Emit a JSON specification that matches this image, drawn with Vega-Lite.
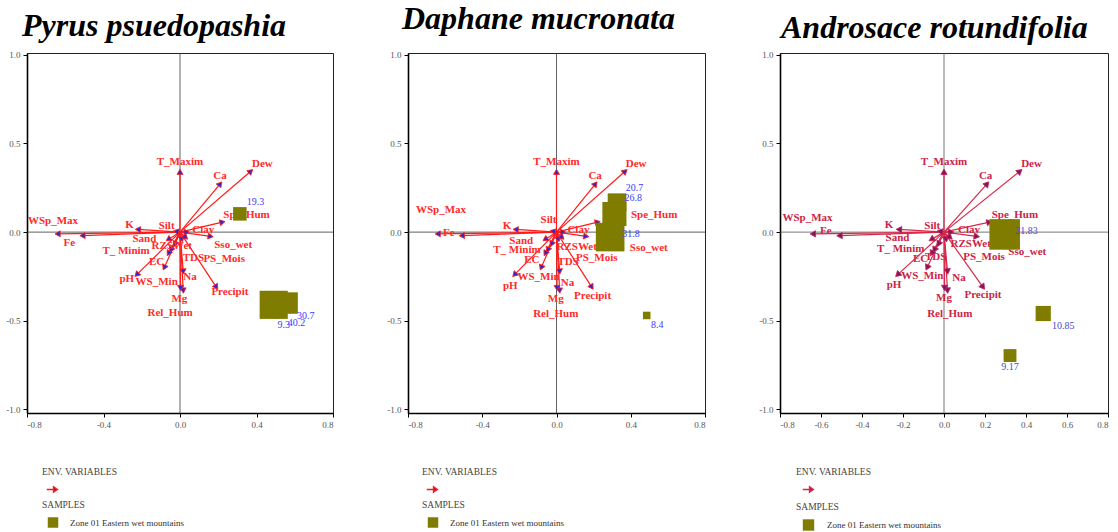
{
  "$schema": "https://vega.github.io/schema/vega-lite/v6.json",
  "background": "white",
  "padding": {"left": 5, "top": 2, "right": 0, "bottom": 0},
  "config": {"font": "Liberation Serif", "view": {"stroke": "#222", "strokeWidth": 1}},
  "datasets": {
    "env": [
      {"name": "T_Maxim", "kind": "env", "x": 0.0, "y": 0.34, "lx1": 0.0, "ly1": 0.395, "lx2": 0.0, "ly2": 0.395, "lx3": 0.0, "ly3": 0.393},
      {"name": "Dew", "kind": "env", "x": 0.37, "y": 0.343, "lx1": 0.431, "ly1": 0.384, "lx2": 0.429, "ly2": 0.384, "lx3": 0.427, "ly3": 0.383},
      {"name": "Ca", "kind": "env", "x": 0.21, "y": 0.272, "lx1": 0.209, "ly1": 0.315, "lx2": 0.208, "ly2": 0.315, "lx3": 0.203, "ly3": 0.315},
      {"name": "Spe_Hum", "kind": "env", "x": 0.222, "y": 0.056, "lx1": 0.348, "ly1": 0.095, "lx2": 0.526, "ly2": 0.099, "lx3": 0.346, "ly3": 0.096},
      {"name": "WSp_Max", "kind": "env", "x": -0.64, "y": -0.01, "lx1": -0.664, "ly1": 0.065, "lx2": -0.622, "ly2": 0.123, "lx3": -0.666, "ly3": 0.078},
      {"name": "Fe", "kind": "env", "x": -0.51, "y": -0.02, "lx1": -0.579, "ly1": -0.063, "lx2": -0.58, "ly2": -0.004, "lx3": -0.577, "ly3": 0.006},
      {"name": "K", "kind": "env", "x": -0.22, "y": 0.015, "lx1": -0.264, "ly1": 0.039, "lx2": -0.267, "ly2": 0.037, "lx3": -0.268, "ly3": 0.041},
      {"name": "Silt", "kind": "env", "x": -0.02, "y": 0.005, "lx1": -0.07, "ly1": 0.035, "lx2": -0.043, "ly2": 0.067, "lx3": -0.057, "ly3": 0.033},
      {"name": "Clay", "kind": "env", "x": 0.035, "y": 0.0, "lx1": 0.122, "ly1": 0.011, "lx2": 0.118, "ly2": 0.011, "lx3": 0.122, "ly3": 0.013},
      {"name": "Sand", "kind": "env", "x": -0.061, "y": -0.041, "lx1": -0.186, "ly1": -0.037, "lx2": -0.19, "ly2": -0.052, "lx3": -0.227, "ly3": -0.033},
      {"name": "Sso_wet", "kind": "env", "x": 0.16, "y": -0.024, "lx1": 0.278, "ly1": -0.071, "lx2": 0.497, "ly2": -0.091, "lx3": 0.406, "ly3": -0.111},
      {"name": "T_ Minim", "kind": "env", "x": -0.047, "y": -0.1, "lx1": -0.282, "ly1": -0.104, "lx2": -0.213, "ly2": -0.1, "lx3": -0.211, "ly3": -0.096},
      {"name": "RZSWet", "kind": "env", "x": -0.026, "y": -0.067, "lx1": -0.043, "ly1": -0.078, "lx2": 0.109, "ly2": -0.082, "lx3": 0.13, "ly3": -0.065},
      {"name": "TDS", "kind": "env", "x": 0.01, "y": -0.04, "lx1": 0.07, "ly1": -0.144, "lx2": 0.063, "ly2": -0.166, "lx3": -0.041, "ly3": -0.139},
      {"name": "PS_Mois", "kind": "env", "x": 0.03, "y": -0.03, "lx1": 0.231, "ly1": -0.151, "lx2": 0.217, "ly2": -0.145, "lx3": 0.195, "ly3": -0.143},
      {"name": "EC", "kind": "env", "x": -0.082, "y": -0.2, "lx1": -0.122, "ly1": -0.168, "lx2": -0.133, "ly2": -0.16, "lx3": -0.114, "ly3": -0.154},
      {"name": "Na", "kind": "env", "x": 0.017, "y": -0.222, "lx1": 0.052, "ly1": -0.253, "lx2": 0.059, "ly2": -0.287, "lx3": 0.073, "ly3": -0.259},
      {"name": "pH", "kind": "env", "x": -0.226, "y": -0.24, "lx1": -0.278, "ly1": -0.263, "lx2": -0.249, "ly2": -0.302, "lx3": -0.244, "ly3": -0.296},
      {"name": "WS_Min", "kind": "env", "x": -0.06, "y": -0.12, "lx1": -0.122, "ly1": -0.283, "lx2": -0.097, "ly2": -0.255, "lx3": -0.106, "ly3": -0.246},
      {"name": "Precipit", "kind": "env", "x": 0.19, "y": -0.31, "lx1": 0.261, "ly1": -0.339, "lx2": 0.194, "ly2": -0.358, "lx3": 0.19, "ly3": -0.352},
      {"name": "Mg", "kind": "env", "x": 0.017, "y": -0.33, "lx1": -0.003, "ly1": -0.377, "lx2": -0.004, "ly2": -0.375, "lx3": 0.0, "ly3": -0.37},
      {"name": "Rel_Hum", "kind": "env", "x": 0.003, "y": -0.315, "lx1": -0.052, "ly1": -0.455, "lx2": -0.004, "ly2": -0.459, "lx3": 0.028, "ly3": -0.459}
    ],
    "smp": [
      {"panel": 1, "v": 19.3, "x": 0.313, "y": 0.103, "lx": 0.395, "ly": 0.168, "zone": "Zone 01 Eastern wet mountains"},
      {"panel": 1, "v": 40.2, "x": 0.49, "y": -0.41, "lx": 0.609, "ly": -0.511, "zone": "Zone 01 Eastern wet mountains"},
      {"panel": 1, "v": 30.7, "x": 0.56, "y": -0.40, "lx": 0.657, "ly": -0.473, "zone": "Zone 01 Eastern wet mountains"},
      {"panel": 1, "v": 9.3, "x": 0.5, "y": -0.47, "lx": 0.543, "ly": -0.522, "zone": "Zone 01 Eastern wet mountains"},
      {"panel": 2, "v": 20.7, "x": 0.326, "y": 0.166, "lx": 0.42, "ly": 0.25, "zone": "Zone 01 Eastern wet mountains"},
      {"panel": 2, "v": 26.8, "x": 0.312, "y": 0.102, "lx": 0.414, "ly": 0.194, "zone": "Zone 01 Eastern wet mountains"},
      {"panel": 2, "v": 31.8, "x": 0.289, "y": -0.028, "lx": 0.402, "ly": -0.013, "zone": "Zone 01 Eastern wet mountains"},
      {"panel": 2, "v": 8.4, "x": 0.486, "y": -0.47, "lx": 0.543, "ly": -0.524, "zone": "Zone 01 Eastern wet mountains"},
      {"panel": 3, "v": 21.83, "x": 0.296, "y": -0.013, "lx": 0.403, "ly": 0.004, "zone": "Zone 01 Eastern wet mountains"},
      {"panel": 3, "v": 10.85, "x": 0.484, "y": -0.459, "lx": 0.582, "ly": -0.528, "zone": "Zone 01 Eastern wet mountains"},
      {"panel": 3, "v": 9.17, "x": 0.322, "y": -0.696, "lx": 0.322, "ly": -0.763, "zone": "Zone 01 Eastern wet mountains"}
    ]
  },
  "hconcat": [
    {
      "width": 306, "height": 360,
      "title": {"text": "Pyrus psuedopashia", "anchor": "start", "frame": "group", "dx": -5, "offset": 8, "font": "Liberation Serif", "fontStyle": "italic", "fontWeight": "bold", "fontSize": 32, "color": "#000"},
      "layer": [
        {"data": {"values": [{}]}, "mark": {"type": "rule", "color": "#3a3a3a", "strokeWidth": 0.8},
         "encoding": {"x": {"datum": 0, "type": "quantitative", "title": null, "scale": {"domain": [-0.8, 0.8], "nice": false, "zero": false},
           "axis": {"values": [-0.8, -0.6, -0.4, -0.2, 0, 0.2, 0.4, 0.6, 0.8], "labelExpr": "replace(format(datum.value, '.1f'), '−', '-')", "labelFont": "Liberation Serif", "labelFontSize": 9, "labelColor": "#555", "tickColor": "#000", "tickSize": 4, "domainColor": "#000", "domainWidth": 1.6, "grid": false, "labelPadding": 3}}}},
        {"data": {"values": [{}]}, "mark": {"type": "rule", "color": "#3a3a3a", "strokeWidth": 0.8},
         "encoding": {"y": {"datum": 0, "type": "quantitative", "title": null, "scale": {"domain": [-1.02, 1.01], "nice": false, "zero": false},
           "axis": {"values": [-1, -0.5, 0, 0.5, 1], "labelExpr": "replace(format(datum.value, '.1f'), '−', '-')", "labelFont": "Liberation Serif", "labelFontSize": 9, "labelColor": "#555", "tickColor": "#000", "tickSize": 4, "domainColor": "#000", "domainWidth": 1.6, "grid": false, "labelPadding": 3}}}},
        {"data": {"name": "env"}, "mark": {"type": "rule", "strokeWidth": 1.2},
         "encoding": {
           "x": {"field": "x", "type": "quantitative", "title": null},
           "y": {"field": "y", "type": "quantitative", "title": null},
           "x2": {"datum": 0}, "y2": {"datum": 0},
           "color": {"field": "kind", "type": "nominal", "scale": {"range": ["#ff1a1a"]},
             "legend": {"orient": "none", "legendX": 15, "legendY": 414, "title": "ENV. VARIABLES", "titleFont": "Liberation Serif", "titleFontSize": 9.5, "titleFontWeight": "normal", "titleColor": "#444", "titlePadding": 7, "labelExpr": "''", "symbolType": "M-1,0L0.3,0M0.3,-0.5L1,0L0.3,0.5Z", "symbolSize": 110, "symbolStrokeWidth": 1.5, "symbolOffset": 4, "symbolFillColor": "#2a2ad0",
               "encode": {"symbols": {"update": {"fill": {"value": "#2a2ad0"}, "stroke": {"value": "#ff1a1a"}}}}}}}},
        {"data": {"name": "env"},
         "transform": [{"calculate": "atan2(datum.x * 1.079, datum.y) * 180 / PI", "as": "ang"}],
         "mark": {"type": "point", "shape": "triangle-up", "filled": true, "fill": "#2a2ad0", "stroke": "#ff1a1a", "strokeWidth": 0.8, "size": 36, "opacity": 1},
         "encoding": {
           "x": {"field": "x", "type": "quantitative", "title": null},
           "y": {"field": "y", "type": "quantitative", "title": null},
           "angle": {"field": "ang", "type": "quantitative", "scale": null}}},
        {"data": {"name": "env"},
         "mark": {"type": "text", "font": "Liberation Serif", "fontWeight": "bold", "fontSize": 11, "color": "#ff2a2a"},
         "encoding": {
           "x": {"field": "lx1", "type": "quantitative", "title": null},
           "y": {"field": "ly1", "type": "quantitative", "title": null},
           "text": {"field": "name"}}},
        {"data": {"name": "smp"}, "transform": [{"filter": "datum.panel == 1"}],
         "mark": {"type": "point", "shape": "square", "filled": true, "opacity": 1},
         "encoding": {
           "x": {"field": "x", "type": "quantitative", "title": null},
           "y": {"field": "y", "type": "quantitative", "title": null},
           "size": {"field": "v", "type": "quantitative", "scale": {"type": "pow", "exponent": 2, "domain": [0, 40], "range": [0, 784]}, "legend": null},
           "fill": {"field": "zone", "type": "nominal", "scale": {"range": ["#7f7c00"]},
             "legend": {"orient": "none", "legendX": 15, "legendY": 447, "title": "SAMPLES", "titleFont": "Liberation Serif", "titleFontSize": 9.5, "titleFontWeight": "normal", "titleColor": "#444", "titlePadding": 7, "symbolType": "square", "symbolSize": 110, "symbolOffset": 5, "labelFont": "Liberation Serif", "labelFontSize": 9, "labelColor": "#333", "labelOffset": 11}}}},
        {"data": {"name": "smp"}, "transform": [{"filter": "datum.panel == 1"}],
         "mark": {"type": "text", "font": "Liberation Serif", "fontSize": 10, "color": "#3b3bff"},
         "encoding": {
           "x": {"field": "lx", "type": "quantitative", "title": null},
           "y": {"field": "ly", "type": "quantitative", "title": null},
           "text": {"field": "v", "type": "nominal"}}}
      ]
    },
    {
      "width": 297, "height": 360,
      "title": {"text": "Daphane mucronata", "anchor": "start", "frame": "group", "dx": -6, "offset": 15, "font": "Liberation Serif", "fontStyle": "italic", "fontWeight": "bold", "fontSize": 32, "color": "#000"},
      "layer": [
        {"data": {"values": [{}]}, "mark": {"type": "rule", "color": "#3a3a3a", "strokeWidth": 0.8},
         "encoding": {"x": {"datum": 0, "type": "quantitative", "title": null, "scale": {"domain": [-0.8, 0.8], "nice": false, "zero": false},
           "axis": {"values": [-0.8, -0.6, -0.4, -0.2, 0, 0.2, 0.4, 0.6, 0.8], "labelExpr": "replace(format(datum.value, '.1f'), '−', '-')", "labelFont": "Liberation Serif", "labelFontSize": 9, "labelColor": "#555", "tickColor": "#000", "tickSize": 4, "domainColor": "#000", "domainWidth": 1.6, "grid": false, "labelPadding": 3}}}},
        {"data": {"values": [{}]}, "mark": {"type": "rule", "color": "#3a3a3a", "strokeWidth": 0.8},
         "encoding": {"y": {"datum": 0, "type": "quantitative", "title": null, "scale": {"domain": [-1.02, 1.01], "nice": false, "zero": false},
           "axis": {"values": [-1, -0.5, 0, 0.5, 1], "labelExpr": "replace(format(datum.value, '.1f'), '−', '-')", "labelFont": "Liberation Serif", "labelFontSize": 9, "labelColor": "#555", "tickColor": "#000", "tickSize": 4, "domainColor": "#000", "domainWidth": 1.6, "grid": false, "labelPadding": 3}}}},
        {"data": {"name": "env"}, "mark": {"type": "rule", "strokeWidth": 1.2},
         "encoding": {
           "x": {"field": "x", "type": "quantitative", "title": null},
           "y": {"field": "y", "type": "quantitative", "title": null},
           "x2": {"datum": 0}, "y2": {"datum": 0},
           "color": {"field": "kind", "type": "nominal", "scale": {"range": ["#ff1a1a"]},
             "legend": {"orient": "none", "legendX": 14, "legendY": 414, "title": "ENV. VARIABLES", "titleFont": "Liberation Serif", "titleFontSize": 9.5, "titleFontWeight": "normal", "titleColor": "#444", "titlePadding": 7, "labelExpr": "''", "symbolType": "M-1,0L0.3,0M0.3,-0.5L1,0L0.3,0.5Z", "symbolSize": 110, "symbolStrokeWidth": 1.5, "symbolOffset": 4, "symbolFillColor": "#2a2ad0",
               "encode": {"symbols": {"update": {"fill": {"value": "#2a2ad0"}, "stroke": {"value": "#ff1a1a"}}}}}}}},
        {"data": {"name": "env"},
         "transform": [{"calculate": "atan2(datum.x * 1.047, datum.y) * 180 / PI", "as": "ang"}],
         "mark": {"type": "point", "shape": "triangle-up", "filled": true, "fill": "#2a2ad0", "stroke": "#ff1a1a", "strokeWidth": 0.8, "size": 36, "opacity": 1},
         "encoding": {
           "x": {"field": "x", "type": "quantitative", "title": null},
           "y": {"field": "y", "type": "quantitative", "title": null},
           "angle": {"field": "ang", "type": "quantitative", "scale": null}}},
        {"data": {"name": "env"},
         "mark": {"type": "text", "font": "Liberation Serif", "fontWeight": "bold", "fontSize": 11, "color": "#ff2a2a"},
         "encoding": {
           "x": {"field": "lx2", "type": "quantitative", "title": null},
           "y": {"field": "ly2", "type": "quantitative", "title": null},
           "text": {"field": "name"}}},
        {"data": {"name": "smp"}, "transform": [{"filter": "datum.panel == 2"}],
         "mark": {"type": "point", "shape": "square", "filled": true, "opacity": 1},
         "encoding": {
           "x": {"field": "x", "type": "quantitative", "title": null},
           "y": {"field": "y", "type": "quantitative", "title": null},
           "size": {"field": "v", "type": "quantitative", "scale": {"type": "pow", "exponent": 2, "domain": [0, 40], "range": [0, 1296]}, "legend": null},
           "fill": {"field": "zone", "type": "nominal", "scale": {"range": ["#7f7c00"]},
             "legend": {"orient": "none", "legendX": 14, "legendY": 447, "title": "SAMPLES", "titleFont": "Liberation Serif", "titleFontSize": 9.5, "titleFontWeight": "normal", "titleColor": "#444", "titlePadding": 7, "symbolType": "square", "symbolSize": 110, "symbolOffset": 5, "labelFont": "Liberation Serif", "labelFontSize": 9, "labelColor": "#333", "labelOffset": 11}}}},
        {"data": {"name": "smp"}, "transform": [{"filter": "datum.panel == 2"}],
         "mark": {"type": "text", "font": "Liberation Serif", "fontSize": 10, "color": "#3b3bff"},
         "encoding": {
           "x": {"field": "lx", "type": "quantitative", "title": null},
           "y": {"field": "ly", "type": "quantitative", "title": null},
           "text": {"field": "v", "type": "nominal"}}}
      ]
    },
    {
      "width": 328, "height": 360,
      "title": {"text": "Androsace rotundifolia", "anchor": "start", "frame": "group", "dx": 1, "offset": 6, "font": "Liberation Serif", "fontStyle": "italic", "fontWeight": "bold", "fontSize": 32, "color": "#000"},
      "layer": [
        {"data": {"values": [{}]}, "mark": {"type": "rule", "color": "#555", "strokeWidth": 0.8},
         "encoding": {"x": {"datum": 0, "type": "quantitative", "title": null, "scale": {"domain": [-0.8, 0.8], "nice": false, "zero": false},
           "axis": {"values": [-0.8, -0.6, -0.4, -0.2, 0, 0.2, 0.4, 0.6, 0.8], "labelExpr": "replace(format(datum.value, '.1f'), '−', '-')", "labelFont": "Liberation Serif", "labelFontSize": 9, "labelColor": "#555", "tickColor": "#000", "tickSize": 4, "domainColor": "#000", "domainWidth": 1.6, "grid": false, "labelPadding": 3}}}},
        {"data": {"values": [{}]}, "mark": {"type": "rule", "color": "#555", "strokeWidth": 0.8},
         "encoding": {"y": {"datum": 0, "type": "quantitative", "title": null, "scale": {"domain": [-1.02, 1.01], "nice": false, "zero": false},
           "axis": {"values": [-1, -0.5, 0, 0.5, 1], "labelExpr": "replace(format(datum.value, '.1f'), '−', '-')", "labelFont": "Liberation Serif", "labelFontSize": 9, "labelColor": "#555", "tickColor": "#000", "tickSize": 4, "domainColor": "#000", "domainWidth": 1.6, "grid": false, "labelPadding": 3}}}},
        {"data": {"name": "env"}, "mark": {"type": "rule", "strokeWidth": 1.2},
         "encoding": {
           "x": {"field": "x", "type": "quantitative", "title": null},
           "y": {"field": "y", "type": "quantitative", "title": null},
           "x2": {"datum": 0}, "y2": {"datum": 0},
           "color": {"field": "kind", "type": "nominal", "scale": {"range": ["#d8284a"]},
             "legend": {"orient": "none", "legendX": 16, "legendY": 414, "title": "ENV. VARIABLES", "titleFont": "Liberation Serif", "titleFontSize": 9.5, "titleFontWeight": "normal", "titleColor": "#444", "titlePadding": 7, "labelExpr": "''", "symbolType": "M-1,0L0.3,0M0.3,-0.5L1,0L0.3,0.5Z", "symbolSize": 110, "symbolStrokeWidth": 1.5, "symbolOffset": 6, "symbolFillColor": "#8a1a5a",
               "encode": {"symbols": {"update": {"fill": {"value": "#8a1a5a"}, "stroke": {"value": "#d8284a"}}}}}}}},
        {"data": {"name": "env"},
         "transform": [{"calculate": "atan2(datum.x * 1.156, datum.y) * 180 / PI", "as": "ang"}],
         "mark": {"type": "point", "shape": "triangle-up", "filled": true, "fill": "#7a1860", "stroke": "#c82050", "strokeWidth": 0.8, "size": 40, "opacity": 1},
         "encoding": {
           "x": {"field": "x", "type": "quantitative", "title": null},
           "y": {"field": "y", "type": "quantitative", "title": null},
           "angle": {"field": "ang", "type": "quantitative", "scale": null}}},
        {"data": {"name": "env"},
         "mark": {"type": "text", "font": "Liberation Serif", "fontWeight": "bold", "fontSize": 11, "color": "#cc2446"},
         "encoding": {
           "x": {"field": "lx3", "type": "quantitative", "title": null},
           "y": {"field": "ly3", "type": "quantitative", "title": null},
           "text": {"field": "name"}}},
        {"data": {"name": "smp"}, "transform": [{"filter": "datum.panel == 3"}],
         "mark": {"type": "point", "shape": "square", "filled": true, "opacity": 1},
         "encoding": {
           "x": {"field": "x", "type": "quantitative", "title": null},
           "y": {"field": "y", "type": "quantitative", "title": null},
           "size": {"field": "v", "type": "quantitative", "scale": {"type": "pow", "exponent": 2, "domain": [0, 20], "range": [0, 784]}, "legend": null},
           "fill": {"field": "zone", "type": "nominal", "scale": {"range": ["#7f7c00"]},
             "legend": {"orient": "none", "legendX": 16, "legendY": 449, "title": "SAMPLES", "titleFont": "Liberation Serif", "titleFontSize": 9.5, "titleFontWeight": "normal", "titleColor": "#444", "titlePadding": 7, "symbolType": "square", "symbolSize": 130, "symbolOffset": 6, "labelFont": "Liberation Serif", "labelFontSize": 9, "labelColor": "#333", "labelOffset": 12}}}},
        {"data": {"name": "smp"}, "transform": [{"filter": "datum.panel == 3"}],
         "mark": {"type": "text", "font": "Liberation Serif", "fontSize": 10, "color": "#4a4ad0"},
         "encoding": {
           "x": {"field": "lx", "type": "quantitative", "title": null},
           "y": {"field": "ly", "type": "quantitative", "title": null},
           "text": {"field": "v", "type": "nominal"}}}
      ]
    }
  ],
  "spacing": 75,
  "bounds": "flush",
  "resolve": {
    "scale": {"color": "independent", "fill": "independent", "size": "independent"},
    "legend": {"color": "independent", "fill": "independent", "size": "independent"}
  }
}
